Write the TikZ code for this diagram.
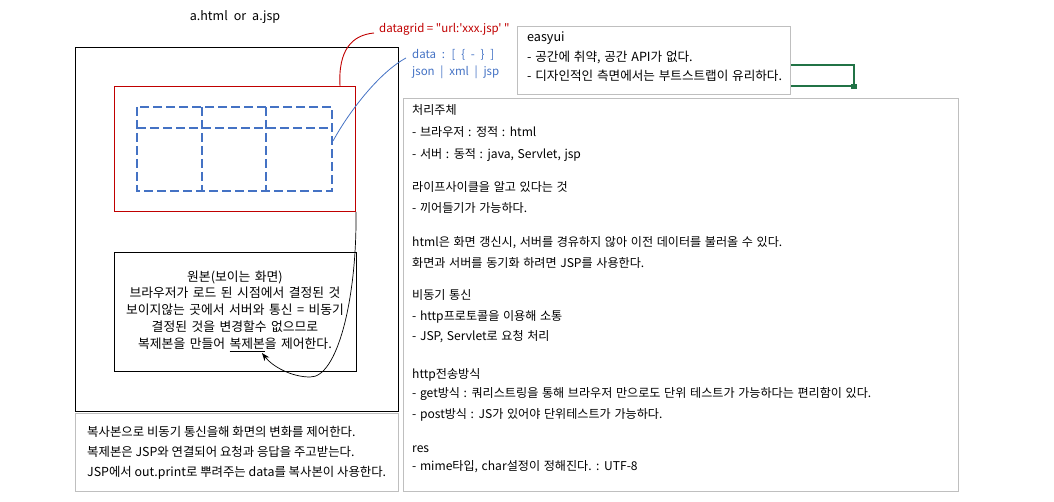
\documentclass[tikz,border=0pt]{standalone}
\usepackage{fontspec}
\newfontfamily\krfont{Noto Sans CJK KR}
\usetikzlibrary{arrows.meta}
\definecolor{gridred}{HTML}{C00000}
\definecolor{gridblue}{HTML}{4472C4}
\definecolor{cellgreen}{HTML}{217346}
\definecolor{memogray}{HTML}{BFBFBF}
\newcommand\widesp[1]{\spaceskip=#1\relax}

\begin{document}
\begin{tikzpicture}[x=1pt, y=-1pt, font=\krfont,
  box/.style={draw, line width=1pt, anchor=north west, inner sep=0pt},
  memo/.style={draw=memogray, fill=white, line width=1.3pt, anchor=north west, inner sep=0pt},
  gridline/.style={gridblue, line width=2pt, dash pattern=on 9pt off 4pt},
  txt/.style={anchor=base west, inner sep=0pt, font={\krfont\fontsize{12.1}{14}\selectfont\widesp{0.3em}}}]
  \useasboundingbox (0,0) rectangle (1054,502);

  % page with the grid
  \node[font={\krfont\fontsize{12.5}{15}\selectfont}] (title) at (235,17) {a.html\hspace{6pt}or\hspace{6pt}a.jsp};
  \node[box, minimum width=323pt, minimum height=364pt] (page) at (75,47) {};
  \node[box, draw=gridred, minimum width=241pt, minimum height=125pt] (table) at (114,86) {};
  \draw[gridline] (137,107) rectangle (332,191);
  \draw[gridline] (137,128) -- (332,128);
  \draw[gridline] (202,107) -- (202,191);
  \draw[gridline] (266,107) -- (266,191);
  \node[box, minimum width=242pt, minimum height=119pt] (orig) at (114,252) {};
  \node[align=center, inner sep=0pt, font={\krfont\fontsize{12.8}{16.8}\selectfont\widesp{0.35em}}] (origtext) at (235,311)
    {원본(보이는 화면)\\브라우저가 로드 된 시점에서 결정된 것\\보이지않는 곳에서 서버와 통신 = 비동기\\결정된 것을 변경할수 없으므로\\복제본을 만들어 \underline{복제본}을 제어한다.};

  % labels
  \node[txt, text=gridred, font={\krfont\fontsize{11.5}{14}\selectfont}] (dg) at (379,33) {datagrid = "url:'xxx.jsp' "};
  \node[txt, text=gridblue, align=left, font={\krfont\fontsize{11.5}{17}\selectfont\widesp{0.5em}}] (data) at (412,76) {data : [ \{ - \} ]\\json | xml | jsp};

  % connectors
  \coordinate (tabletop) at (340,86);
  \coordinate (dgend) at (374,33);
  \coordinate (gridedge) at (333,141);
  \coordinate (dataend) at (406,58);
  \coordinate (copyword) at (262,353);
  \draw[gridred, line width=0.9pt] (tabletop) .. controls (338,50) and (352,35) .. (dgend);
  \draw[gridblue, line width=0.8pt] (gridedge) .. controls (350,110) and (380,72) .. (dataend);
  \draw[line width=0.7pt, -{Stealth[length=8pt,width=6pt]}] (table.south east) .. controls (357,300) and (337,378) .. (310,377) .. controls (292,377) and (273,367) .. (copyword);

  % easyui memo
  \draw[cellgreen, line width=2.3pt] (700,65) -- (854,65) -- (854,86) -- (700,86);
  \fill[cellgreen] (851,84) rectangle (856.5,89.5);
  \node[memo, minimum width=273pt, minimum height=68pt] (easy) at (517,26) {};
  \node[txt, align=left, font={\krfont\fontsize{12.6}{19.5}\selectfont\widesp{0.3em}}] (easytext) at (527,81)
    {easyui\\- 공간에 취약, 공간 API가 없다.\\- 디자인적인 측면에서는 부트스트랩이 유리하다.};

  % bottom memo
  \node[memo, minimum width=323pt, minimum height=78pt] (note) at (75,413) {};
  \node[txt, align=left, font={\krfont\fontsize{12.4}{20}\selectfont}] (notetext) at (87,476)
    {복사본으로 비동기 통신을해 화면의 변화를 제어한다.\\복제본은 JSP와 연결되어 요청과 응답을 주고받는다.\\JSP에서 out.print로 뿌려주는 data를 복사본이 사용한다.};

  % right memo
  \node[memo, minimum width=555pt, minimum height=393pt] (rbox) at (403,98) {};
  \foreach \y/\t [count=\i] in {
    111/{처리주체},
    133/{- 브라우저 : 정적 : html},
    155/{- 서버 : 동적 : java, Servlet, jsp},
    188/{라이프사이클을 알고 있다는 것},
    209/{- 끼어들기가 가능하다.},
    243/{html은 화면 갱신시, 서버를 경유하지 않아 이전 데이터를 불러올 수 있다.},
    264/{화면과 서버를 동기화 하려면 JSP를 사용한다.},
    296/{비동기 통신},
    317/{- http프로토콜을 이용해 소통},
    337/{- JSP, Servlet로 요청 처리},
    374/{http전송방식},
    393/{- get방식 : 쿼리스트링을 통해 브라우저 만으로도 단위 테스트가 가능하다는 편리함이 있다.},
    414/{- post방식 : JS가 있어야 단위테스트가 가능하다.},
    448/{res},
    466/{- mime타입, char설정이 정해진다. : UTF-8}}
    \node[txt] (line\i) at (412,\y+4) {\t};
\end{tikzpicture}
\end{document}
